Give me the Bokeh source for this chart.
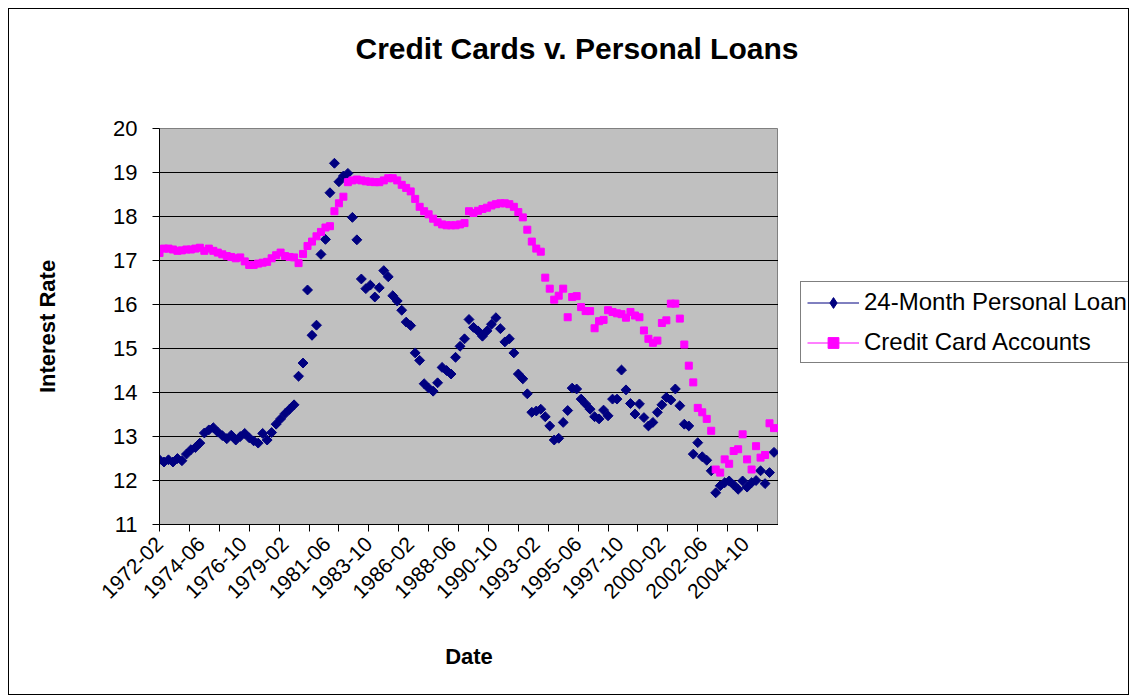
from math import pi, nan
from bokeh.plotting import figure
from bokeh.layouts import row, column
from bokeh.models import Range1d, FixedTicker, LinearAxis, Legend, LegendItem, Title
from bokeh.embed import file_html
from bokeh.resources import INLINE

FONT = "Liberation Sans"

# quarterly observation dates (Feb, May, Aug, Nov)
quarters = [f"{y}-{m:02d}" for y in range(1972, 2007) for m in (2, 5, 8, 11)][:138]

personal_loan = [
    12.47, 12.42, 12.47, 12.42, 12.50, 12.45, 12.60, 12.70, 12.75, 12.85,
    13.08, 13.15, 13.20, 13.10, 13.02, 12.95, 13.03, 12.92, 13.00, 13.07,
    12.97, 12.90, 12.85, 13.07, 12.92, 13.09, 13.28, 13.40, 13.52, 13.62,
    13.72, 14.37, 14.67, 16.33, 15.30, 15.53, 17.14, 17.48, 18.54, 19.21,
    18.79, 18.92, 18.98, 17.98, 17.47, 16.58, 16.36, 16.44, 16.17, 16.38,
    16.77, 16.63, 16.20, 16.08, 15.87, 15.60, 15.52, 14.90, 14.73, 14.20,
    14.10, 14.03, 14.22, 14.57, 14.50, 14.42, 14.80, 15.05, 15.22, 15.66,
    15.48, 15.40, 15.28, 15.40, 15.55, 15.70, 15.45, 15.15, 15.22, 14.90,
    14.42, 14.31, 13.97, 13.55, 13.58, 13.62, 13.45, 13.24, 12.92, 12.96,
    13.32, 13.59, 14.10, 14.08, 13.85, 13.74, 13.62, 13.45, 13.40, 13.60,
    13.47, 13.85, 13.85, 14.51, 14.06, 13.75, 13.51, 13.74, 13.43, 13.24,
    13.32, 13.55, 13.72, 13.89, 13.83, 14.08, 13.70, 13.28, 13.24, 12.60,
    12.86, 12.54, 12.46, 12.22, 11.72, 11.88, 11.95, 11.99, 11.90, 11.80,
    11.99, 11.85, 11.95, 12.00, 12.22, 11.93, 12.18, 12.64,
]

credit_card = [
    17.17, 17.27, 17.27, 17.25, 17.22, 17.23, 17.25, 17.25, 17.27, 17.29,
    17.22, 17.27, 17.22, 17.18, 17.14, 17.10, 17.08, 17.05, 17.07, 16.98,
    16.90, 16.90, 16.93, 16.95, 16.97, 17.05, 17.12, 17.18, 17.10, 17.08,
    17.07, 16.94, 17.15, 17.33, 17.43, 17.55, 17.65, 17.75, 17.78, 18.12,
    18.30, 18.45, 18.78, 18.82, 18.84, 18.82, 18.80, 18.79, 18.78, 18.78,
    18.82, 18.87, 18.87, 18.82, 18.72, 18.65, 18.57, 18.40, 18.22, 18.12,
    18.05, 17.95, 17.87, 17.82, 17.80, 17.80, 17.80, 17.82, 17.85, 18.12,
    18.08, 18.13, 18.17, 18.20, 18.25, 18.28, 18.30, 18.30, 18.28, 18.22,
    18.10, 17.98, 17.70, 17.43, 17.27, 17.20, 16.61, 16.36, 16.11, 16.20,
    16.36, 15.71, 16.17, 16.19, 15.94, 15.85, 15.85, 15.46, 15.62, 15.65,
    15.87, 15.83, 15.80, 15.78, 15.70, 15.83, 15.75, 15.71, 15.41, 15.22,
    15.13, 15.18, 15.58, 15.64, 16.02, 16.02, 15.68, 15.09, 14.61, 14.23,
    13.65, 13.55, 13.40, 13.13, 12.25, 12.18, 12.48, 12.38, 12.67, 12.71,
    13.05, 12.48, 12.25, 12.78, 12.52, 12.58, 13.30, 13.19,
]

date_labels = ["1972-02", "1974-06", "1976-10", "1979-02", "1981-06", "1983-10",
               "1986-02", "1988-06", "1990-10", "1993-02", "1995-06", "1997-10",
               "2000-02", "2002-06", "2004-10"]
y_ticks = [11, 12, 13, 14, 15, 16, 17, 18, 19, 20]
series_names = ["24-Month Personal Loan", "Credit Card Accounts"]
chart_title = "Credit Cards v. Personal Loans"
NAVY = "#000080"
MAGENTA = "#FF00FF"


def month_index(s):
    y, m = s.split("-")
    return (int(y) - 1972) * 12 + int(m) - 2


x = [month_index(q) for q in quarters]

TITLE_H = 70
H = 615


def blank_fig(w, h, **kw):
    f = figure(width=w, height=h, x_range=Range1d(0, 1), y_range=Range1d(0, 1),
               output_backend="svg", toolbar_location=None, title=None,
               x_axis_location=None, y_axis_location=None,
               min_border_left=0, min_border_right=0, min_border_bottom=0,
               background_fill_color="white", border_fill_color="white",
               outline_line_color=None, frame_align=False, **kw)
    f.xgrid.visible = False
    f.ygrid.visible = False
    return f


# ---- title strip ----
tf = blank_fig(1119, TITLE_H, min_border_top=60)
tf.add_layout(Title(text=chart_title, align="left", offset=346,
                    text_font=FONT, text_font_size="30px", text_font_style="bold",
                    text_color="black", standoff=10), "above")

# ---- main chart ----
p = figure(width=769, height=H, x_range=Range1d(0, 414), y_range=Range1d(11, 20),
           output_backend="svg", toolbar_location=None, title=None, frame_align=False,
           min_border_left=150, min_border_right=0, min_border_top=49, min_border_bottom=170,
           background_fill_color="#C0C0C0", border_fill_color="white",
           outline_line_color="#808080", outline_line_width=1)

# x axis: tick marks every 20 months, no labels
xa = p.xaxis[0]
xa.ticker = FixedTicker(ticks=list(range(0, 401, 20)))
xa.major_tick_in = 0
xa.major_tick_out = 7
xa.minor_tick_line_color = None
xa.major_label_text_font_size = "1px"
xa.major_label_text_color = None
xa.major_label_standoff = 0
xa.axis_line_color = "black"
xa.major_tick_line_color = "black"

# label axis: dated labels every 28 months
label_ticks = [month_index(d) for d in date_labels]
la = LinearAxis(ticker=FixedTicker(ticks=label_ticks),
                major_label_overrides={t: d for t, d in zip(label_ticks, date_labels)},
                major_label_orientation=pi / 4,
                major_label_text_font=FONT, major_label_text_font_size="21px",
                major_label_text_color="black", major_label_standoff=3,
                major_tick_line_color=None, minor_tick_line_color=None,
                axis_line_color=None,
                axis_label="Date", axis_label_text_font=FONT,
                axis_label_text_font_size="22px", axis_label_text_font_style="bold",
                axis_label_text_color="black", axis_label_standoff=36)
p.add_layout(la, "below")

ya = p.yaxis[0]
ya.ticker = FixedTicker(ticks=y_ticks)
ya.major_tick_in = 0
ya.major_tick_out = 7
ya.minor_tick_line_color = None
ya.major_label_text_font = FONT
ya.major_label_text_font_size = "22px"
ya.major_label_text_color = "black"
ya.major_label_standoff = 15
ya.axis_line_color = "black"
ya.major_tick_line_color = "black"
ya.axis_label = "Interest Rate"
ya.axis_label_text_font = FONT
ya.axis_label_text_font_size = "22px"
ya.axis_label_text_font_style = "bold"
ya.axis_label_text_color = "black"
ya.axis_label_standoff = 50

p.xgrid.visible = False
p.ygrid.ticker = FixedTicker(ticks=y_ticks)
p.ygrid.grid_line_color = "black"
p.ygrid.grid_line_width = 1

p.scatter(x, personal_loan, marker="square", angle=pi / 4, size=7,
          fill_color=NAVY, line_color=NAVY)
p.scatter(x, credit_card, marker="square", size=7,
          fill_color=MAGENTA, line_color=MAGENTA)

# ---- legend panel to the right of the plot area ----
lg = blank_fig(350, H, min_border_top=0)
lb_line = lg.line([nan], [nan], line_color=NAVY, line_width=1)
lb_mark = lg.scatter([nan], [nan], marker="diamond", size=11, fill_color=NAVY, line_color=NAVY)
lp_line = lg.line([nan], [nan], line_color=MAGENTA, line_width=1)
lp_mark = lg.scatter([nan], [nan], marker="square", size=10, fill_color=MAGENTA, line_color=MAGENTA)

legend = Legend(items=[LegendItem(label=series_names[0], renderers=[lb_line, lb_mark]),
                       LegendItem(label=series_names[1], renderers=[lp_line, lp_mark])],
                location=(22, 331), margin=0, padding=6, spacing=12,
                glyph_width=52, glyph_height=27, label_height=27, label_standoff=5,
                label_text_font=FONT, label_text_font_size="24px", label_text_color="black",
                border_line_color="black", border_line_width=1,
                background_fill_color="white", background_fill_alpha=1.0)
lg.add_layout(legend)

layout = column(tf, row(p, lg))
layout.styles = {"margin-left": "8px", "margin-top": "8px",
                 "border": "1px solid black", "box-sizing": "content-box"}

open("out.html", "w").write(file_html(layout, INLINE))
